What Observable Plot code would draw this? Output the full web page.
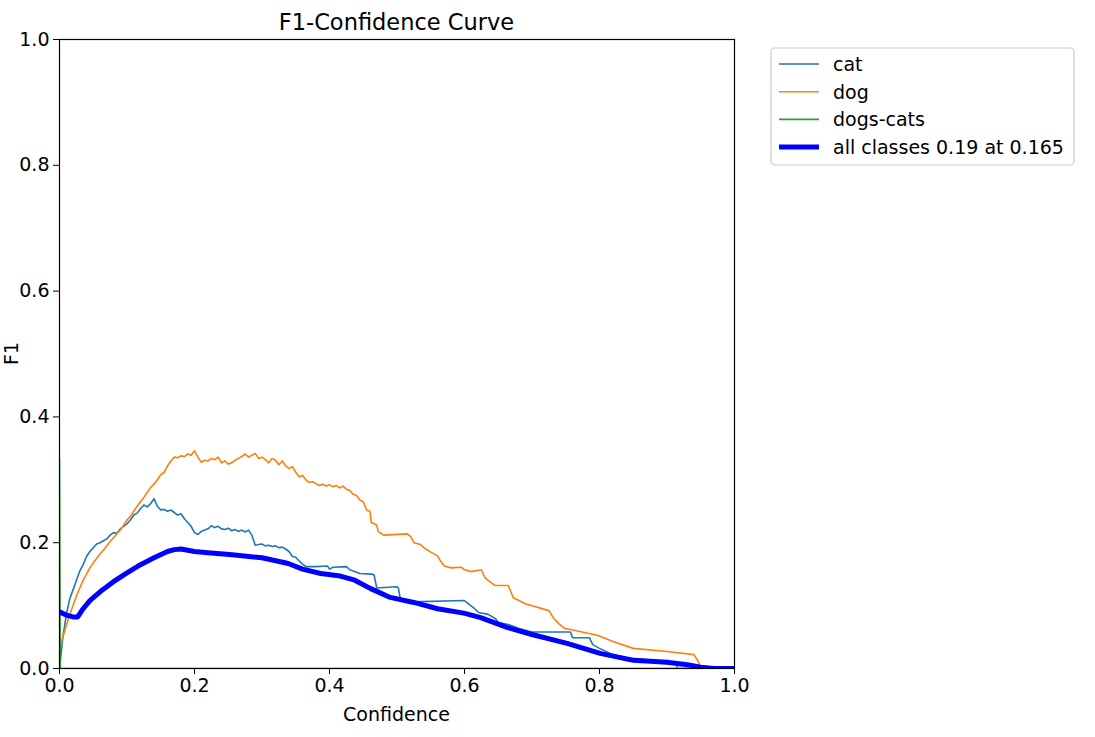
<!DOCTYPE html>
<html>
<head>
<meta charset="utf-8">
<script src="https://cdn.jsdelivr.net/npm/d3@7"></script>
<script src="https://cdn.jsdelivr.net/npm/@observablehq/plot@0.6"></script>
<style>
  html, body { margin: 0; padding: 0; background: white; }
  #chart { width: 1095px; height: 737px; }
</style>
</head>
<body>
<div id="chart"></div>
<script>
// ---- data ----
const title = "F1-Confidence Curve";
const xLabel = "Confidence";
const yLabel = "F1";
const xTicks = [0, 0.2, 0.4, 0.6, 0.8, 1.0];
const yTicks = [0, 0.2, 0.4, 0.6, 0.8, 1.0];
const seriesNames = ["cat", "dog", "dogs-cats", "all classes 0.19 at 0.165"];
const seriesColors = ["#1f77b4", "#ff7f0e", "#2ca02c", "#0000ff"];

const catX = [0.000,0.002,0.005,0.010,0.015,0.020,0.025,0.030,0.035,0.040,0.045,0.050,0.055,0.060,0.065,0.070,0.075,0.080,0.085,0.090,0.095,0.100,0.105,0.110,0.115,0.120,0.125,0.130,0.135,0.140,0.145,0.150,0.155,0.160,0.165,0.170,0.175,0.180,0.185,0.190,0.195,0.200,0.205,0.210,0.215,0.220,0.225,0.230,0.235,0.240,0.245,0.250,0.255,0.260,0.265,0.270,0.275,0.280,0.285,0.290,0.295,0.300,0.305,0.310,0.315,0.320,0.325,0.330,0.335,0.340,0.345,0.350,0.355,0.360,0.365,0.380,0.397,0.400,0.405,0.425,0.430,0.445,0.462,0.466,0.470,0.500,0.502,0.505,0.520,0.600,0.615,0.621,0.635,0.646,0.650,0.665,0.680,0.700,0.757,0.760,0.785,0.790,0.800,0.820,0.850,0.880,0.900,0.914,0.915,1.000];
const catF1 = [0.000,0.020,0.050,0.085,0.110,0.125,0.140,0.155,0.165,0.178,0.186,0.192,0.198,0.200,0.203,0.206,0.212,0.216,0.215,0.222,0.226,0.230,0.236,0.244,0.247,0.254,0.260,0.257,0.262,0.270,0.258,0.252,0.253,0.250,0.252,0.248,0.244,0.246,0.238,0.232,0.226,0.216,0.213,0.218,0.220,0.222,0.227,0.224,0.226,0.222,0.221,0.223,0.219,0.221,0.218,0.220,0.217,0.220,0.212,0.196,0.197,0.198,0.195,0.196,0.194,0.195,0.192,0.193,0.190,0.186,0.178,0.177,0.171,0.166,0.162,0.162,0.163,0.158,0.161,0.162,0.157,0.151,0.150,0.149,0.128,0.130,0.128,0.110,0.106,0.108,0.095,0.089,0.086,0.079,0.073,0.070,0.064,0.058,0.058,0.049,0.049,0.038,0.032,0.022,0.016,0.013,0.011,0.008,0.000,0.000];

const dogX = [0.000,0.005,0.010,0.015,0.020,0.025,0.030,0.035,0.040,0.045,0.050,0.055,0.060,0.065,0.070,0.075,0.080,0.085,0.090,0.095,0.100,0.105,0.110,0.115,0.120,0.125,0.130,0.135,0.140,0.145,0.150,0.155,0.160,0.165,0.170,0.175,0.180,0.185,0.190,0.195,0.200,0.205,0.210,0.215,0.220,0.225,0.230,0.235,0.240,0.245,0.250,0.255,0.260,0.265,0.270,0.275,0.280,0.285,0.290,0.295,0.300,0.305,0.310,0.315,0.320,0.325,0.330,0.335,0.340,0.345,0.350,0.355,0.360,0.365,0.370,0.375,0.380,0.385,0.390,0.395,0.400,0.405,0.410,0.415,0.420,0.425,0.430,0.435,0.440,0.445,0.450,0.455,0.460,0.462,0.470,0.472,0.480,0.515,0.520,0.525,0.535,0.540,0.550,0.560,0.565,0.570,0.580,0.595,0.600,0.610,0.625,0.630,0.635,0.645,0.665,0.672,0.690,0.725,0.732,0.740,0.748,0.797,0.820,0.850,0.900,0.940,0.947,0.950,1.000];
const dogF1 = [0.030,0.050,0.068,0.085,0.100,0.115,0.128,0.140,0.150,0.160,0.168,0.175,0.182,0.188,0.195,0.202,0.208,0.214,0.220,0.228,0.236,0.242,0.250,0.258,0.265,0.272,0.280,0.288,0.293,0.300,0.308,0.312,0.322,0.330,0.336,0.335,0.338,0.337,0.341,0.339,0.346,0.336,0.328,0.331,0.330,0.334,0.332,0.336,0.327,0.330,0.325,0.327,0.331,0.334,0.337,0.341,0.336,0.339,0.342,0.334,0.336,0.332,0.327,0.334,0.331,0.324,0.330,0.322,0.318,0.321,0.312,0.305,0.307,0.300,0.296,0.297,0.294,0.291,0.293,0.290,0.292,0.289,0.291,0.287,0.290,0.285,0.283,0.277,0.275,0.268,0.265,0.252,0.250,0.232,0.228,0.218,0.212,0.214,0.210,0.200,0.197,0.192,0.185,0.179,0.170,0.163,0.160,0.161,0.157,0.154,0.157,0.145,0.140,0.132,0.132,0.113,0.103,0.092,0.080,0.071,0.064,0.053,0.043,0.032,0.027,0.022,0.010,0.000,0.000];

const dogsCatsX = [0.000,0.000,0.001,1.000];
const dogsCatsF1 = [0.000,0.333,0.000,0.000];

const allX = [0.000,0.010,0.020,0.027,0.035,0.045,0.060,0.080,0.100,0.120,0.140,0.160,0.170,0.180,0.200,0.220,0.256,0.300,0.339,0.360,0.387,0.416,0.436,0.461,0.490,0.525,0.560,0.599,0.624,0.664,0.700,0.752,0.801,0.850,0.900,0.930,0.950,0.970,1.000];
const allF1 = [0.090,0.085,0.082,0.082,0.095,0.108,0.122,0.138,0.152,0.165,0.176,0.186,0.189,0.190,0.186,0.184,0.181,0.176,0.167,0.158,0.151,0.147,0.141,0.127,0.113,0.105,0.095,0.088,0.081,0.065,0.054,0.040,0.024,0.013,0.010,0.006,0.002,0.000,0.000];

// ---- build tables ----
const toRows = (xs, ys) => xs.map((x, i) => ({x, y: ys[i]}));
const cat = toRows(catX, catF1);
const dog = toRows(dogX, dogF1);
const dogsCats = toRows(dogsCatsX, dogsCatsF1);
const all = toRows(allX, allF1);

const W = 1095, H = 737;
const mL = 59, mR = 361, mT = 39, mB = 69;

const svg = Plot.plot({
  width: W, height: H,
  marginLeft: mL, marginRight: mR, marginTop: mT, marginBottom: mB,
  x: {domain: [0, 1]},
  y: {domain: [0, 1]},
  style: {fontFamily: "DejaVu Sans", fontSize: "19px", color: "black", background: "white"},
  marks: [
    Plot.line(cat, {x: "x", y: "y", stroke: seriesColors[0], strokeWidth: 1.6, clip: true}),
    Plot.line(dog, {x: "x", y: "y", stroke: seriesColors[1], strokeWidth: 1.6, clip: true}),
    Plot.line(dogsCats, {x: "x", y: "y", stroke: seriesColors[2], strokeWidth: 1.6, clip: true}),
    Plot.line(all, {x: "x", y: "y", stroke: seriesColors[3], strokeWidth: 5, clip: true}),
    Plot.frame({stroke: "black", strokeWidth: 1.2}),
    Plot.axisX({ticks: xTicks, tickFormat: d3.format(".1f"), tickSize: 6, tickPadding: 4, label: null, fontSize: 19}),
    Plot.axisY({ticks: yTicks, tickFormat: d3.format(".1f"), tickSize: 6, tickPadding: 4, label: null, fontSize: 19})
  ]
});

const s = d3.select(svg);
const cx = mL + (W - mL - mR) / 2;
s.append("text").attr("x", cx).attr("y", 22).attr("text-anchor", "middle")
  .attr("dominant-baseline", "central").attr("font-size", 22.5).attr("fill", "black").text(title);
s.append("text").attr("x", cx).attr("y", 714).attr("text-anchor", "middle")
  .attr("dominant-baseline", "central").attr("font-size", 19).attr("fill", "black").text(xLabel);
s.append("text").attr("transform", `translate(11,${mT + (H - mT - mB) / 2}) rotate(-90)`)
  .attr("text-anchor", "middle").attr("dominant-baseline", "central").attr("font-size", 19).attr("fill", "black").text(yLabel);

// legend
const lg = s.append("g");
lg.append("rect").attr("x", 771).attr("y", 48).attr("width", 303).attr("height", 117)
  .attr("rx", 4).attr("fill", "white").attr("fill-opacity", 0.8).attr("stroke", "#cccccc").attr("stroke-width", 1.2);
seriesNames.forEach((name, i) => {
  const y = 64 + i * 27.7;
  lg.append("line").attr("x1", 779).attr("x2", 819).attr("y1", y).attr("y2", y)
    .attr("stroke", seriesColors[i]).attr("stroke-width", i === 3 ? 5 : 1.6);
  lg.append("text").attr("x", 833).attr("y", y).attr("text-anchor", "start").attr("dominant-baseline", "central")
    .attr("font-size", 19).attr("fill", "black").text(name);
});

document.getElementById("chart").appendChild(svg);
</script>
</body>
</html>
